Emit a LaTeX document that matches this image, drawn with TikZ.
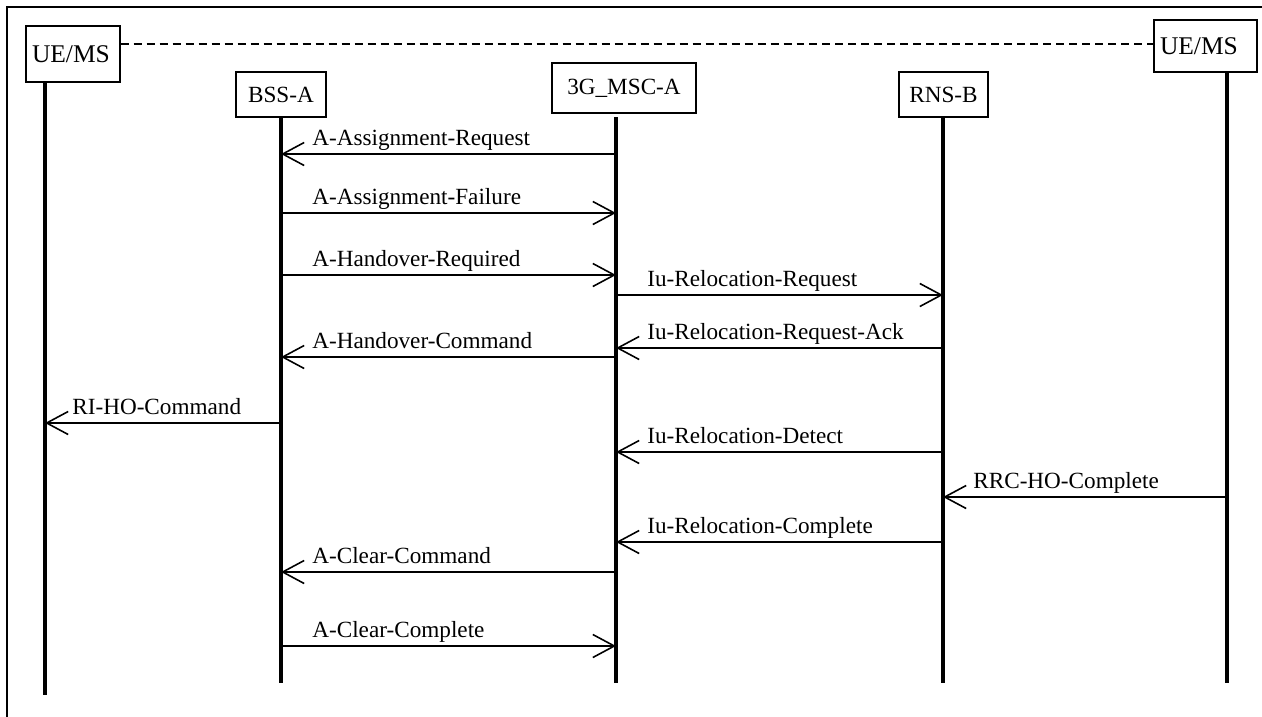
\documentclass[tikz,border=0pt]{standalone}
\usepackage{fontspec}
\setmainfont{Liberation Serif}
\usetikzlibrary{arrows.meta,positioning}

\tikzset{
  entity/.style={draw, line width=0.7pt, inner sep=0pt, font=\fontsize{13.2}{15}\selectfont},
  uebox/.style={draw, line width=0.7pt, inner xsep=0.12cm, inner ysep=0pt, align=left, font=\fontsize{14.5}{16}\selectfont},
  life/.style={line width=2.3pt},
  msg/.style={line width=0.9pt, -{Straight Barb[length=0.43cm,width=0.46cm,line width=0.9pt]}},
  lbl/.style={anchor=base west, inner sep=0pt, font=\fontsize{13.2}{15}\selectfont}
}

\begin{document}
\begin{tikzpicture}[x=0.02cm, y=-0.02cm]
    \useasboundingbox (0,0) rectangle (1262,717);

    % Frame
    \draw[line width=0.7pt] (7,717) -- (7,7) -- (1262,7);

    % Entities
    \node[uebox, text width=1.64cm, minimum height=1.12cm] (ueAbox) at (73,54) {UE/MS};
    \node[entity, minimum width=1.8cm, minimum height=0.9cm] (bssbox) at (281,94.5) {BSS-A};
    \node[entity, minimum width=2.88cm, minimum height=1.0cm] (mscbox) at (624,88) {3G\_MSC-A};
    \node[entity, minimum width=1.78cm, minimum height=0.9cm] (rnsbox) at (943.5,94.5) {RNS-B};
    \node[uebox, text width=1.82cm, minimum height=1.04cm] (ueBbox) at (1205.5,46) {UE/MS};

    % Same UE/MS on both sides
    \draw[line width=0.6pt, dash pattern=on 0.16cm off 0.1cm] (ueAbox.east |- 0,44) -- (ueBbox.west |- 0,44);

    % Lifelines
    \coordinate (ueA) at (45,82);    \coordinate (ueAend) at (45,695);
    \coordinate (bss) at (281,117);  \coordinate (bssend) at (281,683);
    \coordinate (msc) at (616,117);  \coordinate (mscend) at (616,683);
    \coordinate (rns) at (943,117);  \coordinate (rnsend) at (943,683);
    \coordinate (ueB) at (1227,72);  \coordinate (ueBend) at (1227,683);
    \draw[life] (ueA) -- (ueAend);
    \draw[life] (bss) -- (bssend);
    \draw[life] (msc) -- (mscend);
    \draw[life] (rns) -- (rnsend);
    \draw[life] (ueB) -- (ueBend);

    % Messages
    \draw[msg] (msc |- 0,154) -- (bss |- 0,154);
    \node[lbl] (m1) at (312,145) {A-Assignment-Request};

    \draw[msg] (bss |- 0,213) -- (msc |- 0,213);
    \node[lbl] (m2) at (312,204) {A-Assignment-Failure};

    \draw[msg] (bss |- 0,275) -- (msc |- 0,275);
    \node[lbl] (m3) at (312,266) {A-Handover-Required};

    \draw[msg] (msc |- 0,295) -- (rns |- 0,295);
    \node[lbl] (m4) at (647,286) {Iu-Relocation-Request};

    \draw[msg] (rns |- 0,348) -- (msc |- 0,348);
    \node[lbl] (m5) at (647,339) {Iu-Relocation-Request-Ack};

    \draw[msg] (msc |- 0,357) -- (bss |- 0,357);
    \node[lbl] (m6) at (312,348) {A-Handover-Command};

    \draw[msg] (bss |- 0,423) -- (ueA |- 0,423);
    \node[lbl] (m7) at (72,414) {RI-HO-Command};

    \draw[msg] (rns |- 0,452) -- (msc |- 0,452);
    \node[lbl] (m8) at (647,443) {Iu-Relocation-Detect};

    \draw[msg] (ueB |- 0,497) -- (rns |- 0,497);
    \node[lbl] (m9) at (973,488) {RRC-HO-Complete};

    \draw[msg] (rns |- 0,542) -- (msc |- 0,542);
    \node[lbl] (m10) at (647,533) {Iu-Relocation-Complete};

    \draw[msg] (msc |- 0,572) -- (bss |- 0,572);
    \node[lbl] (m11) at (312,563) {A-Clear-Command};

    \draw[msg] (bss |- 0,646) -- (msc |- 0,646);
    \node[lbl] (m12) at (312,637) {A-Clear-Complete};
\end{tikzpicture}
\end{document}
